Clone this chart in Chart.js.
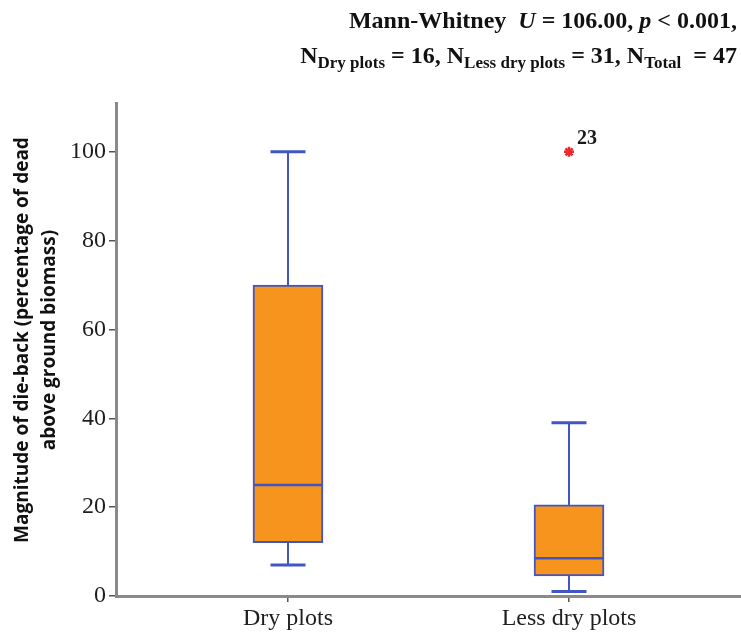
<!DOCTYPE html>
<html>
<head>
<meta charset="utf-8">
<script src="https://cdn.jsdelivr.net/npm/chart.js@4.4.0/dist/chart.umd.min.js"></script>
<style>
  html, body { margin: 0; padding: 0; background: #fff; }
  #wrap { width: 741px; height: 632px; }
</style>
</head>
<body>
<div id="wrap"><canvas id="dieback" width="741" height="632"></canvas></div>
<script>
// Box statistics per group (die-back, % of dead above ground biomass)
const groups = ["Dry plots", "Less dry plots"];
const whiskerLow = [7, 1];
const q1 = [12, 4.5];
const median = [25, 8.5];
const q3 = [70, 20.5];
const whiskerHigh = [100, 39];

// Extreme case shown as a star
const outlierGroup = [2];
const outlierValue = [100];
const outlierCase = ["23"];

const yTicks = [0, 20, 40, 60, 80, 100];
const yTitle = ["Magnitude of die-back (percentage of dead", "above ground biomass)"];

const ORANGE = "#f7941e";
const BLUE = "#3f56c4";
const RED = "#ec2a2c";
const AXIS = "#8a8a8a";
const BOX_W = 70;
const CAP_W = 35;
const SERIF = "'Liberation Serif', 'Times New Roman', serif";

// whiskers, caps, medians and the case number next to the star
const boxParts = {
  id: "boxParts",
  afterDatasetsDraw(chart) {
    const { ctx, scales: { x, y } } = chart;
    const seg = (x1, y1, x2, y2) => {
      ctx.beginPath();
      ctx.moveTo(x1, y1);
      ctx.lineTo(x2, y2);
      ctx.stroke();
    };
    ctx.save();
    ctx.strokeStyle = BLUE;
    groups.forEach((g, i) => {
      const cx = x.getPixelForValue(i + 1);
      ctx.lineWidth = 2;
      seg(cx, y.getPixelForValue(q3[i]), cx, y.getPixelForValue(whiskerHigh[i]));
      seg(cx, y.getPixelForValue(q1[i]), cx, y.getPixelForValue(whiskerLow[i]));
      ctx.lineWidth = 3;
      seg(cx - CAP_W / 2, y.getPixelForValue(whiskerHigh[i]), cx + CAP_W / 2, y.getPixelForValue(whiskerHigh[i]));
      seg(cx - CAP_W / 2, y.getPixelForValue(whiskerLow[i]), cx + CAP_W / 2, y.getPixelForValue(whiskerLow[i]));
      ctx.lineWidth = 2.5;
      seg(cx - BOX_W / 2, y.getPixelForValue(median[i]), cx + BOX_W / 2, y.getPixelForValue(median[i]));
    });
    ctx.fillStyle = "#1a1a1a";
    ctx.font = "bold 20px " + SERIF;
    ctx.textAlign = "left";
    ctx.textBaseline = "alphabetic";
    outlierValue.forEach((v, i) => {
      ctx.fillText(outlierCase[i], x.getPixelForValue(outlierGroup[i]) + 8, y.getPixelForValue(v) - 8);
    });
    ctx.restore();
  }
};

// statistics header (with subscripts) and rotated y title
const headings = {
  id: "headings",
  afterDraw(chart) {
    const ctx = chart.ctx;
    const big = "bold 24px " + SERIF;
    const bigIt = "italic bold 24px " + SERIF;
    const sub = "bold 17px " + SERIF;
    const lines = [
      { base: 28, parts: [["Mann-Whitney  ", big, 0], ["U", bigIt, 0], [" = 106.00, ", big, 0], ["p", bigIt, 0], [" < 0.001,", big, 0]] },
      { base: 63, parts: [["N", big, 0], ["Dry plots", sub, 5], [" = 16, N", big, 0], ["Less dry plots", sub, 5],
        [" = 31, N", big, 0], ["Total", sub, 5], ["  = 47", big, 0]] }
    ];
    ctx.save();
    ctx.fillStyle = "#111";
    ctx.textAlign = "left";
    ctx.textBaseline = "alphabetic";
    lines.forEach(line => {
      let total = 0;
      line.parts.forEach(p => { ctx.font = p[1]; total += ctx.measureText(p[0]).width; });
      let px = 737 - total;
      line.parts.forEach(p => {
        ctx.font = p[1];
        ctx.fillText(p[0], px, line.base + p[2]);
        px += ctx.measureText(p[0]).width;
      });
    });

    const cy = 340;
    ctx.font = "bold 19px 'Open Sans', sans-serif";
    ctx.textAlign = "center";
    ctx.textBaseline = "middle";
    [23, 50].forEach((lx, i) => {
      ctx.save();
      ctx.translate(lx, cy);
      ctx.rotate(-Math.PI / 2);
      ctx.fillText(yTitle[i], 0, 0);
      ctx.restore();
    });
    ctx.restore();
  }
};

new Chart(document.getElementById("dieback"), {
  type: "bar",
  data: {
    datasets: [
      {
        type: "bar",
        data: groups.map((g, i) => ({ x: i + 1, y: [q1[i], q3[i]] })),
        backgroundColor: ORANGE,
        borderColor: BLUE,
        borderWidth: 2,
        borderSkipped: false,
        barThickness: BOX_W
      },
      {
        type: "scatter",
        data: outlierValue.map((v, i) => ({ x: outlierGroup[i], y: v })),
        pointStyle: "star",
        radius: 5,
        borderColor: RED,
        backgroundColor: RED,
        borderWidth: 2.5
      }
    ]
  },
  options: {
    responsive: false,
    animation: false,
    layout: { autoPadding: false, padding: { top: 103, left: 0, right: 0, bottom: 0 } },
    plugins: { legend: { display: false }, tooltip: { enabled: false } },
    scales: {
      x: {
        type: "linear",
        min: 0.388,
        max: 2.612,
        offset: false,
        afterBuildTicks: s => { s.ticks = groups.map((g, i) => ({ value: i + 1 })); },
        afterFit: s => { s.height = 36; s.paddingLeft = 0; s.paddingRight = 0; },
        border: { display: true, color: AXIS, width: 3 },
        grid: { display: true, offset: false, drawOnChartArea: false, drawTicks: true, tickLength: 6, color: "#555", lineWidth: 1.5 },
        ticks: {
          callback: (v, i) => groups[i],
          font: { family: SERIF, size: 24 },
          color: "#1e1e1e",
          padding: 2,
          maxRotation: 0
        }
      },
      y: {
        min: 0,
        max: 111,
        afterBuildTicks: s => { s.ticks = yTicks.map(v => ({ value: v })); },
        afterFit: s => { s.width = 116; },
        border: { display: true, color: AXIS, width: 3 },
        grid: { display: true, drawOnChartArea: false, drawTicks: true, tickLength: 7, color: "#555", lineWidth: 1.5 },
        ticks: {
          font: { family: SERIF, size: 24 },
          color: "#1e1e1e",
          padding: 3
        }
      }
    }
  },
  plugins: [boxParts, headings]
});
</script>
</body>
</html>
